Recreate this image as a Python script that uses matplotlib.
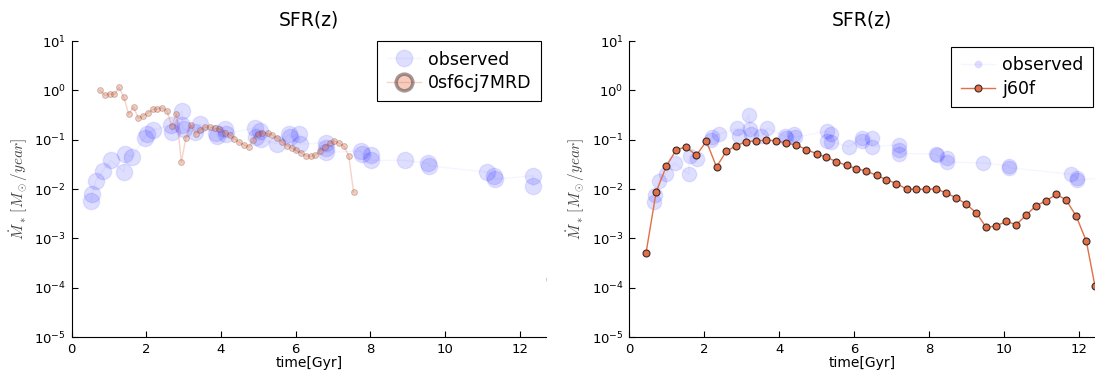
import numpy as np
import matplotlib
matplotlib.use("Agg")
import matplotlib.pyplot as plt
from matplotlib.lines import Line2D
from matplotlib.ticker import NullLocator

plt.rcParams['mathtext.fontset'] = 'cm'

# observed SFR points, left panel
obs_t_left = [0.53, 0.55, 0.65, 0.83, 1.05, 1.41, 1.43, 1.62, 1.96, 2.01, 2.18, 2.67, 2.70,
              2.96, 2.96, 3.00, 3.30, 3.44, 3.87, 3.90, 4.11, 4.13, 4.92, 4.95, 5.04, 5.06,
              5.49, 5.83, 5.85, 6.09, 6.11, 6.80, 6.80, 6.80, 7.74, 7.78, 8.02, 8.02, 8.93,
              9.55, 9.57, 11.13, 11.32, 11.34, 12.35, 12.35]
obs_sfr_left = [0.0058, 0.0079, 0.0148, 0.023, 0.038, 0.022, 0.052, 0.045, 0.11, 0.129, 0.155,
                0.20, 0.145, 0.38, 0.20, 0.162, 0.145, 0.21, 0.138, 0.117, 0.162, 0.132, 0.174,
                0.112, 0.148, 0.102, 0.083, 0.129, 0.112, 0.129, 0.081, 0.087, 0.069, 0.055,
                0.059, 0.052, 0.049, 0.038, 0.038, 0.033, 0.0295, 0.022, 0.0186, 0.0158,
                0.0186, 0.0117]

# observed SFR points, right panel
obs_t_right = [0.66, 0.69, 0.79, 0.97, 1.21, 1.59, 1.61, 1.80, 2.17, 2.22, 2.39, 2.89, 2.93,
               3.19, 3.22, 3.26, 3.53, 3.69, 4.17, 4.19, 4.40, 4.42, 5.27, 5.29, 5.38, 5.38,
               5.86, 6.20, 6.22, 6.47, 6.47, 7.21, 7.21, 7.21, 8.18, 8.22, 8.49, 8.49, 9.43,
               10.14, 10.14, 11.78, 11.94, 11.96, 13.10, 13.10]
obs_sfr_right = [0.0055, 0.0074, 0.0145, 0.020, 0.034, 0.020, 0.047, 0.040, 0.10, 0.112, 0.129,
                 0.17, 0.117, 0.32, 0.162, 0.132, 0.117, 0.17, 0.117, 0.107, 0.129, 0.112, 0.148,
                 0.095, 0.129, 0.091, 0.072, 0.107, 0.095, 0.107, 0.072, 0.079, 0.063, 0.052,
                 0.052, 0.048, 0.043, 0.035, 0.034, 0.0295, 0.027, 0.020, 0.017, 0.015,
                 0.0186, 0.0117]

# model 0sf6cj7MRD
mod_t_left = [0.76, 0.90, 1.02, 1.15, 1.27, 1.40, 1.53, 1.66, 1.79, 1.91, 2.04, 2.17, 2.30,
              2.43, 2.56, 2.68, 2.81, 2.94, 3.06, 3.19, 3.32, 3.45, 3.58, 3.70, 3.84, 3.96,
              4.12, 4.24, 4.36, 4.48, 4.61, 4.74, 4.86, 4.99, 5.11, 5.25, 5.37, 5.51, 5.63,
              5.76, 5.89, 6.01, 6.14, 6.27, 6.40, 6.52, 6.65, 6.78, 6.91, 7.03, 7.16, 7.29,
              7.42, 7.55, np.nan, 12.77]
mod_sfr_left = [1.0, 0.79, 0.85, 0.83, 1.15, 0.73, 0.33, 0.46, 0.27, 0.30, 0.35, 0.41, 0.42,
                0.44, 0.38, 0.19, 0.33, 0.035, 0.107, 0.20, 0.13, 0.16, 0.18, 0.18, 0.17, 0.166,
                0.135, 0.126, 0.105, 0.089, 0.079, 0.071, 0.098, 0.13, 0.135, 0.135, 0.126,
                0.107, 0.091, 0.076, 0.068, 0.062, 0.054, 0.047, 0.046, 0.048, 0.059, 0.071,
                0.085, 0.095, 0.085, 0.074, 0.047, 0.0087, np.nan, 0.00015]

# model j60f
mod_t_right = [0.45, 0.72, 0.99, 1.26, 1.52, 1.79, 2.06, 2.33, 2.59, 2.86, 3.13, 3.39, 3.66,
               3.93, 4.19, 4.46, 4.73, 5.00, 5.26, 5.53, 5.80, 6.06, 6.33, 6.60, 6.86, 7.13,
               7.40, 7.66, 7.93, 8.20, 8.46, 8.73, 9.00, 9.26, 9.53, 9.80, 10.06, 10.33, 10.60,
               10.86, 11.13, 11.40, 11.66, 11.93, 12.20, 12.43]
mod_sfr_right = [0.00051, 0.0087, 0.029, 0.063, 0.071, 0.048, 0.093, 0.028, 0.058, 0.076,
                 0.091, 0.095, 0.098, 0.095, 0.085, 0.078, 0.063, 0.052, 0.044, 0.036, 0.030,
                 0.026, 0.023, 0.019, 0.0155, 0.0129, 0.0100, 0.0098, 0.0100, 0.0100, 0.0083,
                 0.0066, 0.0049, 0.0033, 0.00166, 0.0018, 0.0022, 0.0019, 0.0030, 0.0046,
                 0.0058, 0.0078, 0.0060, 0.0028, 0.00087, 0.000107]

x_ticks = [0, 2, 4, 6, 8, 10, 12]
y_ticks = [1e-5, 1e-4, 1e-3, 1e-2, 1e-1, 1e0, 1e1]

orange = '#E26F46'
obs_face = (0, 0, 1, 0.13)
obs_line = (0, 0, 1, 0.04)
faded_face = (0.886, 0.435, 0.275, 0.34)
faded_edge = (0.3, 0.2, 0.2, 0.28)
faded_line = (0.886, 0.435, 0.275, 0.3)

fig = plt.figure(figsize=(10.95, 3.75), dpi=100)
ax1 = fig.add_axes([0.0653, 0.1013, 0.4333, 0.7893])
ax2 = fig.add_axes([0.5746, 0.1013, 0.4254, 0.7893])


def style_axes(ax, xmax):
    ax.set_yscale('log')
    ax.set_ylim(1e-5, 10)
    ax.set_xlim(0, xmax)
    ax.set_xticks(x_ticks)
    ax.set_yticks(y_ticks)
    ax.yaxis.set_minor_locator(NullLocator())
    ax.spines['top'].set_visible(False)
    ax.spines['right'].set_visible(False)
    ax.tick_params(direction='in', length=4, width=0.8, labelsize=9.5, pad=4)
    ax.set_title('SFR(z)', fontsize=13.5, pad=11)
    ax.set_xlabel('time[Gyr]', fontsize=10, labelpad=0)
    ax.set_ylabel(r'$\dot{M}_*\,[M_\odot/year]$', fontsize=11, color='#444444', labelpad=3)


# left panel
ax1.plot(obs_t_left, obs_sfr_left, color=obs_line, lw=1, zorder=1)
ax1.scatter(obs_t_left, obs_sfr_left, s=140, color=obs_face, edgecolors=(0, 0, 1, 0.08),
            linewidths=1, zorder=2)
ax1.plot(mod_t_left, mod_sfr_left, color=faded_line, lw=1, marker='o', ms=4.2,
         mfc=faded_face, mec=faded_edge, mew=0.7, zorder=3, clip_on=True)
style_axes(ax1, 12.7)
h1 = [Line2D([], [], color=obs_line, lw=1, marker='o', ms=12, mfc=obs_face, mec=(0, 0, 1, 0.08)),
      Line2D([], [], color=faded_line, lw=1, marker='o', ms=12, mfc=faded_face,
             mec=(0.3, 0.2, 0.2, 0.5), mew=2.5)]
ax1.legend(h1, ['observed', '0sf6cj7MRD'], loc='upper right', bbox_to_anchor=(0.99, 1.0),
           fontsize=12.5, frameon=True, fancybox=False, edgecolor='black', framealpha=1,
           borderaxespad=0, labelspacing=0.3, handlelength=2.0, handletextpad=0.4,
           borderpad=0.55).get_frame().set_linewidth(0.8)

# right panel
ax2.plot(obs_t_right, obs_sfr_right, color=obs_line, lw=1, zorder=1)
ax2.scatter(obs_t_right, obs_sfr_right, s=110, color=obs_face, edgecolors=(0, 0, 1, 0.08),
            linewidths=1, zorder=2)
ax2.plot(mod_t_right, mod_sfr_right, color=orange, lw=1, marker='o', ms=5,
         mfc=orange, mec='#3a2a2a', mew=0.8, zorder=3, clip_on=False)
style_axes(ax2, 12.43)
h2 = [Line2D([], [], color=obs_line, lw=1, marker='o', ms=5, mfc=obs_face, mec=(0, 0, 1, 0.05)),
      Line2D([], [], color=orange, lw=1, marker='o', ms=5, mfc=orange, mec='#3a2a2a', mew=0.8)]
ax2.legend(h2, ['observed', 'j60f'], loc='upper right', bbox_to_anchor=(0.996, 0.98),
           fontsize=12.5, frameon=True, fancybox=False, edgecolor='black', framealpha=1,
           borderaxespad=0, labelspacing=0.3, handlelength=2.0, handletextpad=0.4,
           borderpad=0.55).get_frame().set_linewidth(0.8)

fig.savefig('out.png', dpi=100)
